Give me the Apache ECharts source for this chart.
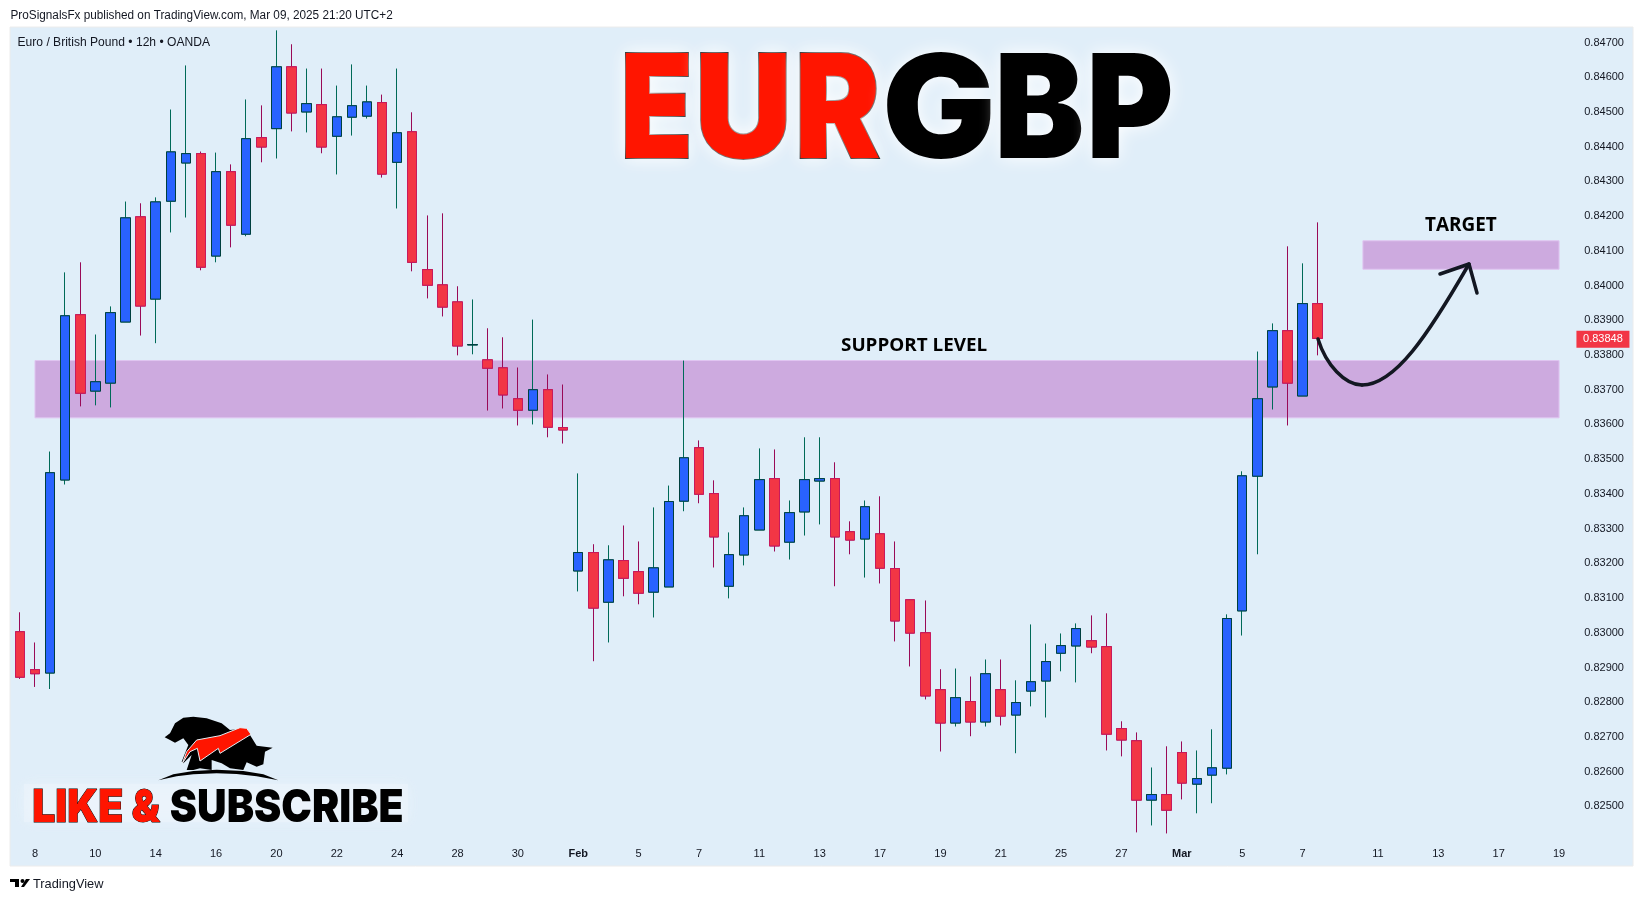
<!DOCTYPE html>
<html>
<head>
<meta charset="utf-8">
<style>html,body{margin:0;padding:0;background:#fff;width:1643px;height:901px;overflow:hidden}#c{width:1643px;height:901px}</style>
<script src="https://cdn.jsdelivr.net/npm/echarts@6/dist/echarts.min.js"></script>
</head>
<body>
<div id="c"></div>
<script>
const opens  = [.83003,.82894,.82884,.83440,.83916,.83696,.83719,.83895,.84198,.83961,.84243,.84353,.84380,.84085,.84328,.84148,.84426,.84452,.84630,.84500,.84521,.84430,.84485,.84488,.84527,.84355,.84443,.84046,.84002,.83953,.83829,.83786,.83763,.83674,.83641,.83700,.83591,.83178,.83231,.83088,.83208,.83176,.83117,.83132,.83379,.83533,.83401,.83134,.83224,.83296,.83444,.83261,.83348,.83437,.83444,.83291,.83270,.83285,.83185,.83095,.83000,.82836,.82740,.82802,.82743,.82836,.82763,.82832,.82861,.82941,.82962,.82977,.82960,.82724,.82689,.82518,.82534,.82655,.82564,.82590,.82610,.83063,.83451,.83708,.83870,.83682,.83948];
const highs  = [.83059,.82972,.83522,.84038,.84067,.83859,.83940,.84242,.84237,.84254,.84507,.84634,.84386,.84383,.84349,.84536,.84519,.84735,.84695,.84625,.84625,.84576,.84637,.84576,.84550,.84625,.84499,.84202,.84208,.83998,.83960,.83877,.83851,.83764,.83902,.83744,.83715,.83459,.83255,.83252,.83309,.83263,.83361,.83424,.83784,.83554,.83439,.83289,.83361,.83531,.83528,.83381,.83563,.83563,.83491,.83321,.83381,.83393,.83263,.83096,.83093,.82895,.82897,.82874,.82923,.82923,.82863,.83024,.82969,.82998,.83027,.83050,.83056,.82745,.82713,.82612,.82673,.82687,.82661,.82722,.83053,.83465,.83810,.83891,.84113,.84064,.84182];
const lows   = [.82867,.82844,.82838,.83427,.83652,.83655,.83649,.83895,.83856,.83834,.84153,.84196,.84044,.84067,.84110,.84142,.84355,.84366,.84444,.84441,.84381,.84320,.84432,.84481,.84311,.84222,.84041,.83963,.83911,.83799,.83802,.83640,.83646,.83597,.83600,.83563,.83545,.83119,.82918,.82972,.83105,.83082,.83044,.83132,.83350,.83373,.83188,.83099,.83194,.83296,.83234,.83211,.83280,.83312,.83134,.83226,.83159,.83142,.82975,.82903,.82808,.82658,.82730,.82702,.82730,.82733,.82653,.82788,.82756,.82889,.82857,.82941,.82661,.82644,.82425,.82445,.82422,.82520,.82480,.82509,.82592,.82992,.83226,.83643,.83597,.83682,.83799];
const closes = [.82872,.82882,.83461,.83913,.83690,.83723,.83922,.84195,.83941,.84241,.84385,.84380,.84053,.84328,.84174,.84423,.84399,.84630,.84497,.84524,.84399,.84486,.84518,.84529,.84321,.84440,.84067,.84001,.83938,.83826,.83830,.83762,.83685,.83641,.83700,.83592,.83584,.83231,.83071,.83210,.83157,.83114,.83187,.83378,.83504,.83399,.83276,.83225,.83337,.83441,.83250,.83346,.83441,.83444,.83276,.83267,.83363,.83186,.83034,.82999,.82818,.82740,.82813,.82743,.82882,.82760,.82799,.82859,.82917,.82963,.83012,.82959,.82708,.82691,.82518,.82534,.82489,.82567,.82580,.82611,.83041,.83452,.83674,.83870,.83719,.83948,.83848];
const tickIndex  = [1,5,9,13,17,21,25,29,33,37,41,45,49,53,57,61,65,69,73,77,81,85,90,94,98,102];
const tickLabels = ['8','10','14','16','20','22','24','28','30','Feb','5','7','11','13','17','19','21','25','27','Mar','5','7','11','13','17','19'];
const supportZone = [.83619,.83784];
const targetZone  = [.84047,.84129];
const lastPrice = .83848;

const slots = 107;
const categories = Array.from({length:slots},(_,i)=>{const k=tickIndex.indexOf(i);return k<0?'':tickLabels[k];});
const ohlc  = opens.map((o,i)=>[o,closes[i],lows[i],highs[i]]);
const bodies= opens.map((o,i)=>[o,closes[i],Math.min(o,closes[i]),Math.max(o,closes[i])]);

const UI = '"Liberation Sans"';
const ctx = document.createElement('canvas').getContext('2d');
function fitText(t,font,left,right,centerY,extra){
  ctx.font=font;
  const m=ctx.measureText(t);
  const s=(right-left)/(m.actualBoundingBoxLeft+m.actualBoundingBoxRight);
  return {type:'text',z:20,x:left+m.actualBoundingBoxLeft*s,y:centerY,scaleX:s,silent:true,
    style:Object.assign({text:t,x:0,y:0,font:font,verticalAlign:'middle',fill:'#000'},extra||{})};
}
function poly(pts,fill,z,extra){return {type:'polygon',z:z||20,silent:true,x:150,y:705,scaleX:1/3,scaleY:1/3,shape:{points:pts},style:Object.assign({fill:fill},extra||{})};}
function arrowCurve(a,b,c,d){return {type:'bezierCurve',z:20,silent:true,shape:{x1:a[0],y1:a[1],cpx1:b[0],cpy1:b[1],cpx2:c[0],cpy2:c[1],x2:d[0],y2:d[1]},style:{fill:null,stroke:'#131722',lineWidth:3.5,lineCap:'round'}};}
const glow={textShadowBlur:18,textShadowColor:'#ffffff'};
const titleFont='900 144px Inter';
const red=Object.assign({fill:'#ff1500',stroke:'#000',lineWidth:2},glow);
const blk=Object.assign({fill:'#000'},glow);
const titleY=114.7;
const graphics=[
 {type:'rect',z:-5,silent:true,shape:{x:10,y:27,width:1623,height:839},style:{fill:'#e0eef9',stroke:'#ececec',lineWidth:1}},
 fitText('ProSignalsFx published on TradingView.com, Mar 09, 2025 21:20 UTC+2','12px '+UI,10.5,393,15.5,{fill:'#131722'}),
 fitText('Euro / British Pound • 12h • OANDA','12px '+UI,17.5,210,42.5,{fill:'#131722'}),
 fitText('TradingView','13px '+UI,33,104,884.5,{fill:'#131722'}),
 {type:'polygon',z:20,silent:true,shape:{points:[[10,879],[19,879],[19,887],[15,887],[15,882],[10,882]]},style:{fill:'#000'}},
 {type:'polygon',z:20,silent:true,shape:{points:[[21,887],[26,879],[30,879],[24,887]]},style:{fill:'#000'}},
 {type:'circle',z:20,silent:true,shape:{cx:22.5,cy:881,r:2},style:{fill:'#000'}},
 fitText('E',titleFont,625.3,688.8,titleY,red),
 fitText('U',titleFont,700.3,786.4,titleY,red),
 fitText('R',titleFont,799.8,879.4,titleY,red),
 fitText('G',titleFont,886.2,991.1,titleY,blk),
 fitText('B',titleFont,999.9,1081.4,titleY,blk),
 fitText('P',titleFont,1091.7,1170.2,titleY,blk),
 fitText('SUPPORT LEVEL','700 18px "Open Sans"',841,987,346),
 fitText('TARGET','700 19px "Open Sans"',1425,1496.7,225.6),
 {type:'rect',z:15,silent:true,shape:{x:24,y:784,width:384,height:38},style:{fill:'rgba(236,244,251,0.55)',shadowBlur:14,shadowColor:'rgba(240,247,252,0.9)'}},
 fitText('LIKE &','900 45px Inter',34,160.7,808.5,{fill:'#ff1500',stroke:'#000',lineWidth:1}),
 fitText('SUBSCRIBE','900 45px Inter',170.7,402.3,808.5),
 poly([[44,97],[60,85],[75,55],[100,38],[130,35],[170,40],[215,55],[240,75],[270,72],[300,90],[320,122],[368,128],[345,140],[340,178],[320,185],[290,172],[280,195],[240,190],[215,175],[185,165],[185,195],[150,190],[130,195],[110,195],[125,150],[100,175],[95,170],[115,120],[100,100],[75,113],[60,105]],'#000',20),
 poly([[97,175],[110,140],[140,105],[210,92],[270,68],[290,70],[303,88],[210,145],[205,130],[150,168],[142,130],[120,140]],'#ff1500',21,{stroke:'#e8eef4',lineWidth:3}),
 poly([[25,226],[70,208],[130,198],[200,194],[280,198],[340,208],[385,226],[320,214],[260,207],[200,205],[130,208],[80,214]],'#000',20),
 arrowCurve([1318,339],[1326,365],[1345,385],[1362,385]),
 arrowCurve([1362,385],[1395,385],[1428,335],[1469,264]),
 {type:'polyline',z:20,silent:true,shape:{points:[[1440,274],[1469,264],[1477,293]]},style:{fill:null,stroke:'#131722',lineWidth:3.5,lineCap:'round',lineJoin:'round'}}
];

const chart=echarts.init(document.getElementById('c'),null,{renderer:'canvas',width:1643,height:901});
chart.setOption({
 animation:false,
 backgroundColor:'#ffffff',
 tooltip:{show:false},
 grid:{left:12.35,width:1614.63,top:7.8,height:868,containLabel:false},
 xAxis:{type:'category',data:categories,boundaryGap:true,axisLine:{show:false},axisTick:{show:false},splitLine:{show:false},
   axisLabel:{inside:true,interval:0,margin:16,color:'#131722',fontFamily:UI,fontSize:11,hideOverlap:false,
     formatter:v=>(v==='Feb'||v==='Mar')?'{b|'+v+'}':v,rich:{b:{fontWeight:'bold',fontSize:11,fontFamily:UI,color:'#131722'}}}},
 yAxis:{type:'value',position:'right',min:.823,max:.848,interval:.001,scale:true,axisLine:{show:false},axisTick:{show:false},splitLine:{show:false},
   axisLabel:{inside:true,margin:3,padding:[2,0,0,0],color:'#131722',fontFamily:UI,fontSize:11,showMinLabel:true,showMaxLabel:true,
     formatter:v=>(v<.8245||v>.8475)?'':v.toFixed(5)}},
 series:[
  {type:'candlestick',name:'wicks',z:3,data:ohlc,barWidth:10,silent:true,
   itemStyle:{color:'#2962ff',color0:'#f23645',borderColor:'#006a58',borderColor0:'#990a57',borderColorDoji:'#00403f',borderWidth:1},
   markArea:{silent:true,itemStyle:{color:'#cdaadf',borderColor:'#e0c5f1',borderWidth:1},
     data:[[{xAxis:1,yAxis:supportZone[1]},{xAxis:102,yAxis:supportZone[0]}],
           [{xAxis:89,yAxis:targetZone[1]},{xAxis:102,yAxis:targetZone[0]}]]}},
  {type:'candlestick',name:'bodies',z:4,data:bodies,barWidth:10,silent:true,
   itemStyle:{color:'#2962ff',color0:'#f23645',borderColor:'#00403f',borderColor0:'#c9195c',borderColorDoji:'#00403f',borderWidth:1},
   markPoint:{silent:true,z:12,symbol:'rect',symbolSize:[53,17],itemStyle:{color:'#f23645'},
     label:{show:true,position:'inside',color:'#fff',fontFamily:UI,fontSize:11,formatter:()=>lastPrice.toFixed(5)},
     data:[{coord:[105,lastPrice],symbolOffset:[-1.4,1]}]}}
 ],
 graphic:{elements:graphics}
});
</script>
</body>
</html>
